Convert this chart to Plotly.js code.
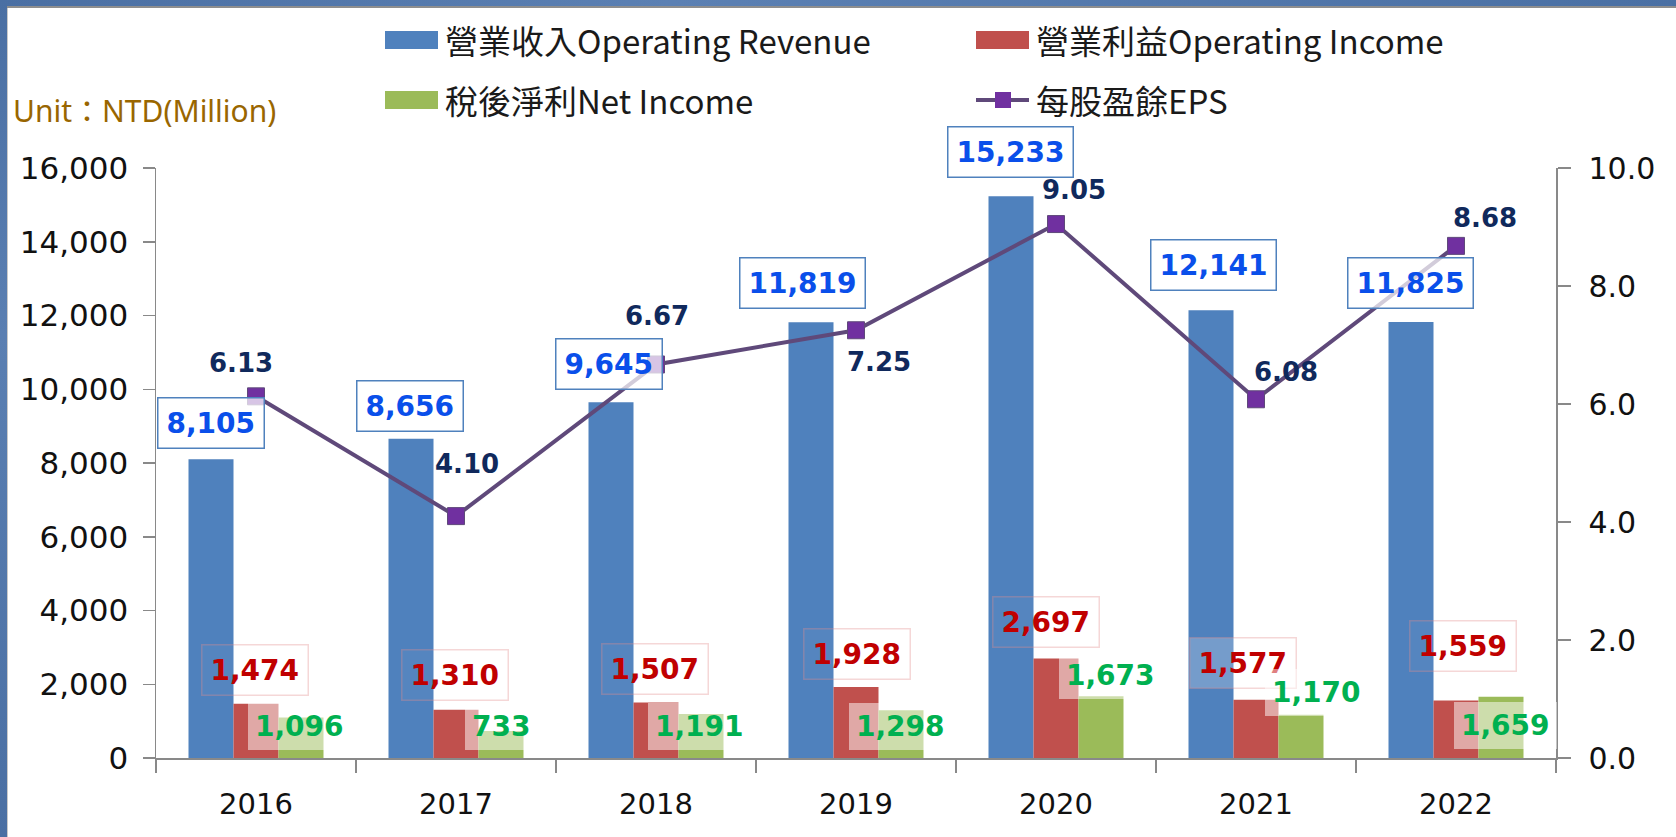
<!DOCTYPE html>
<html>
<head>
<meta charset="utf-8">
<script src="https://cdn.plot.ly/plotly-3.0.1.min.js"></script>
<style>
  html, body { margin: 0; padding: 0; background: #ffffff; }
  #wrap { position: relative; width: 1676px; height: 837px; overflow: hidden; }
  #chart { position: absolute; left: 0; top: 0; width: 1676px; height: 837px; }
  .edge { position: absolute; pointer-events: none; }
</style>
</head>
<body>
<div id="wrap">
  <div id="chart"></div>
  <div class="edge" style="left:0;top:0;width:1676px;height:6px;background:linear-gradient(90deg,#4a6fa3,#5b80b3 40%,#4a70a4);"></div>
  <div class="edge" style="left:0;top:6px;width:1676px;height:2px;background:#8e8e8e;"></div>
  <div class="edge" style="left:0;top:0;width:7px;height:837px;background:linear-gradient(180deg,#4a6fa3,#5a7fb2 40%,#4a6fa3);"></div>
  <div class="edge" style="left:7px;top:8px;width:1px;height:829px;background:#c9c9c9;"></div>
</div>
<script>
// ---- data ----
const categories = ['2016', '2017', '2018', '2019', '2020', '2021', '2022'];
const revenue    = [8105, 8656, 9645, 11819, 15233, 12141, 11825];
const opIncome   = [1474, 1310, 1507, 1928, 2697, 1577, 1559];
const netIncome  = [1096, 733, 1191, 1298, 1673, 1170, 1659];
const eps        = [6.13, 4.10, 6.67, 7.25, 9.05, 6.08, 8.68];
const seriesNames = ['營業收入Operating Revenue', '營業利益Operating Income', '稅後淨利Net Income', '每股盈餘EPS'];
const unitLabel = 'Unit：NTD(Million)';

// ---- label pixel offsets (placement only) ----
const revShift = [[-45,36],[-46,33],[-47,38],[-54,39],[-46,44],[-43,45],[-46,39]];
const opShift  = [[-1,34],[-1,35],[-1,33],[1,33],[-10,37],[-13,37],[7,55]];
const netShift = [[43,-9],[45,4],[43,-12],[44,-16],[54,21],[60,22],[49,-29]];
const epsShift = [[-15,33],[11,52],[1,48],[23,-32],[18,34],[30,27],[29,28]];
const opBoxAlpha = [0.04, 0.04, 0.04, 0.04, 0.04, 0.22, 0.04];

// ---- styles ----
const C_BLUE = '#4F81BD', C_RED = '#C0504D', C_GREEN = '#9BBB59';
const C_LINE = '#5F497A', C_MARK = '#7030A0';
const W = 1676, H = 837;
const M = {l: 156, r: 120, t: 168, b: 79};
const PW = W - M.l - M.r, PH = H - M.t - M.b;
const px = x => (x - M.l) / PW;
const py = y => (H - M.b - y) / PH;
const fmt = v => v.toLocaleString('en-US');

const traces = [
  {type: 'bar', name: seriesNames[0], x: categories, y: revenue, marker: {color: C_BLUE}, yaxis: 'y', showlegend: false, hoverinfo: 'skip'},
  {type: 'bar', name: seriesNames[1], x: categories, y: opIncome, marker: {color: C_RED}, yaxis: 'y', showlegend: false, hoverinfo: 'skip'},
  {type: 'bar', name: seriesNames[2], x: categories, y: netIncome, marker: {color: C_GREEN}, yaxis: 'y', showlegend: false, hoverinfo: 'skip'},
  {type: 'scatter', mode: 'lines+markers', name: seriesNames[3], x: categories, y: eps, yaxis: 'y2',
   line: {color: C_LINE, width: 4}, marker: {symbol: 'square', size: 17, color: C_MARK, line: {color: C_LINE, width: 1}},
   cliponaxis: false, showlegend: false, hoverinfo: 'skip'}
];

const labelFont = (color, size) => ({family: 'DejaVu Sans', size: size, color: color, weight: 'bold'});
const annotations = [];
categories.forEach((c, i) => {
  // category axis: annotations positioned by category index
  annotations.push({x: i, y: revenue[i], xref: 'x', yref: 'y', text: fmt(revenue[i]), showarrow: false,
    xanchor: 'center', yanchor: 'middle', xshift: revShift[i][0], yshift: revShift[i][1],
    font: labelFont('#0A4FEA', 28), bgcolor: 'rgba(255,255,255,0.72)', bordercolor: C_BLUE, borderwidth: 1.5, borderpad: 8});
  annotations.push({x: i, y: opIncome[i], xref: 'x', yref: 'y', text: fmt(opIncome[i]), showarrow: false,
    xanchor: 'center', yanchor: 'middle', xshift: opShift[i][0], yshift: opShift[i][1],
    font: labelFont('#C00000', 28), bgcolor: 'rgba(255,255,255,' + opBoxAlpha[i] + ')', bordercolor: 'rgba(225,140,140,0.35)', borderwidth: 1.5, borderpad: 8});
  annotations.push({x: i, y: netIncome[i], xref: 'x', yref: 'y', text: fmt(netIncome[i]), showarrow: false,
    xanchor: 'center', yanchor: 'middle', xshift: netShift[i][0], yshift: netShift[i][1],
    font: labelFont('#00B050', 28), bgcolor: 'rgba(255,255,255,0.5)', borderwidth: 0, borderpad: 7});
  annotations.push({x: i, y: eps[i], xref: 'x', yref: 'y2', text: eps[i].toFixed(2), showarrow: false,
    xanchor: 'center', yanchor: 'middle', xshift: epsShift[i][0], yshift: epsShift[i][1],
    font: labelFont('#10295C', 26)});
});

// unit label
annotations.push({xref: 'paper', yref: 'paper', x: px(11), y: py(110), xanchor: 'left', yanchor: 'middle',
  text: unitLabel, showarrow: false, font: {family: 'Noto Sans, Noto Sans CJK TC', size: 30, color: '#996600'}});

// manual legend
const legendFont = {family: 'Noto Sans CJK TC', size: 33, color: '#1a1a1a'};
const legendItems = [
  {name: seriesNames[0], color: C_BLUE, x: 385, y: 40},
  {name: seriesNames[1], color: C_RED, x: 976, y: 40},
  {name: seriesNames[2], color: C_GREEN, x: 385, y: 100},
  {name: seriesNames[3], color: null, x: 976, y: 100}
];
const shapes = [];
legendItems.forEach(it => {
  if (it.color) {
    shapes.push({type: 'rect', xref: 'paper', yref: 'paper', x0: px(it.x), x1: px(it.x + 53), y0: py(it.y + 9), y1: py(it.y - 9),
      fillcolor: it.color, line: {width: 0}});
  } else {
    shapes.push({type: 'line', xref: 'paper', yref: 'paper', x0: px(it.x), x1: px(it.x + 53), y0: py(it.y), y1: py(it.y),
      line: {color: C_LINE, width: 4}});
    shapes.push({type: 'rect', xref: 'paper', yref: 'paper', x0: px(it.x + 19), x1: px(it.x + 35), y0: py(it.y + 8), y1: py(it.y - 8),
      fillcolor: C_MARK, line: {width: 0}});
  }
  annotations.push({xref: 'paper', yref: 'paper', x: px(it.x + 58), y: py(it.y), xanchor: 'left', yanchor: 'middle',
    text: it.name, showarrow: false, font: legendFont});
});

const axisCommon = {showgrid: false, zeroline: false, showline: true, linecolor: '#898989', linewidth: 1.5,
  ticks: 'outside', tickcolor: '#898989', tickwidth: 1.5, tickfont: {family: 'DejaVu Sans', size: 30, color: '#111'}};

const layout = {
  width: W, height: H,
  margin: M,
  paper_bgcolor: '#ffffff', plot_bgcolor: '#ffffff',
  barmode: 'group', bargap: 0.325, bargroupgap: 0,
  showlegend: false,
  xaxis: Object.assign({}, axisCommon, {type: 'category', range: [-0.5, 6.5], tickson: 'boundaries', ticklen: 13,
    ticklabelstandoff: 20, tickfont: {family: 'DejaVu Sans', size: 29, color: '#111'}}),
  yaxis: Object.assign({}, axisCommon, {range: [0, 16000], dtick: 2000, tickformat: ',d', ticklen: 12, ticklabelstandoff: 8,
    tickfont: {family: 'DejaVu Sans', size: 31, color: '#111'}}),
  yaxis2: Object.assign({}, axisCommon, {range: [0, 10], dtick: 2, tickformat: '.1f', overlaying: 'y', side: 'right',
    ticklen: 13, ticklabelstandoff: 12}),
  annotations: annotations,
  shapes: shapes
};

Plotly.newPlot('chart', traces, layout, {displayModeBar: false, staticPlot: true});
</script>
</body>
</html>
